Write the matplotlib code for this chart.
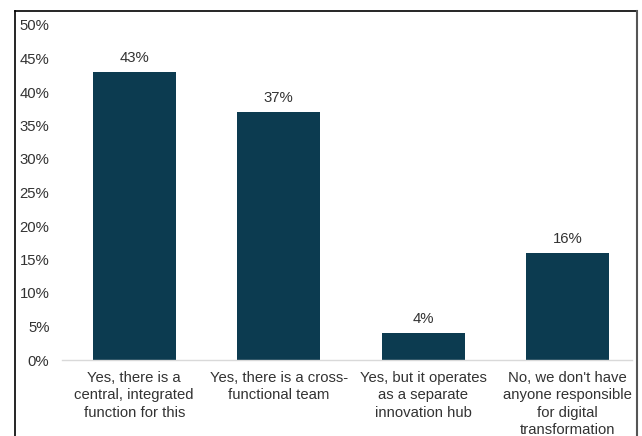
import matplotlib
matplotlib.use('Agg')
import matplotlib.pyplot as plt
import matplotlib.ticker as mtick
from matplotlib.lines import Line2D

# Datos
categorias = [
    'Yes, there is a\ncentral, integrated\nfunction for this',
    'Yes, there is a cross-\nfunctional team',
    'Yes, but it operates\nas a separate\ninnovation hub',
    "No, we don't have\nanyone responsible\nfor digital\ntransformation",
]
valores = [43, 37, 4, 16]
yticks = [0, 5, 10, 15, 20, 25, 30, 35, 40, 45, 50]

color_barra = '#0c3b50'
color_texto = '#333333'
tam = 10.7

plt.rcParams['font.family'] = ['Liberation Sans', 'DejaVu Sans']

fig = plt.figure(figsize=(6.42, 4.36), dpi=100)
W, H = 642, 436
ax = fig.add_axes([62 / W, (H - 360) / H, (632 - 62) / W, (360 - 25) / H])

x = list(range(len(valores)))
barras = ax.bar(x, valores, width=0.574, color=color_barra)
for xi, v in zip(x, valores):
    ax.annotate(f'{v}%', (xi, v), xytext=(0, 5), textcoords='offset points',
                ha='center', va='bottom', fontsize=tam, color=color_texto)

ax.set_xlim(-0.5, 3.445)
ax.set_ylim(0, 50)
ax.set_yticks(yticks)
ax.yaxis.set_major_formatter(mtick.FormatStrFormatter('%d%%'))
ax.set_xticks(x)
ax.set_xticklabels(categorias, fontsize=tam, color=color_texto, linespacing=1.3)
ax.tick_params(axis='y', length=0, pad=9, labelsize=tam, labelcolor=color_texto)
ax.tick_params(axis='x', length=0, pad=8)

for lado in ['left', 'top', 'right']:
    ax.spines[lado].set_visible(False)
ax.spines['bottom'].set_color('#d9d9d9')
ax.spines['bottom'].set_linewidth(1)

# Marco exterior
fig.add_artist(Line2D([15 / W, 15 / W], [0, 1 - 11 / H], color='black', lw=1.2,
                      transform=fig.transFigure))
fig.add_artist(Line2D([15 / W, 637 / W], [1 - 11 / H, 1 - 11 / H], color='black', lw=1.2,
                      transform=fig.transFigure))
fig.add_artist(Line2D([637 / W, 637 / W], [0, 1 - 11 / H], color='#555555', lw=1.5,
                      transform=fig.transFigure))

plt.savefig('out.png', dpi=100)
